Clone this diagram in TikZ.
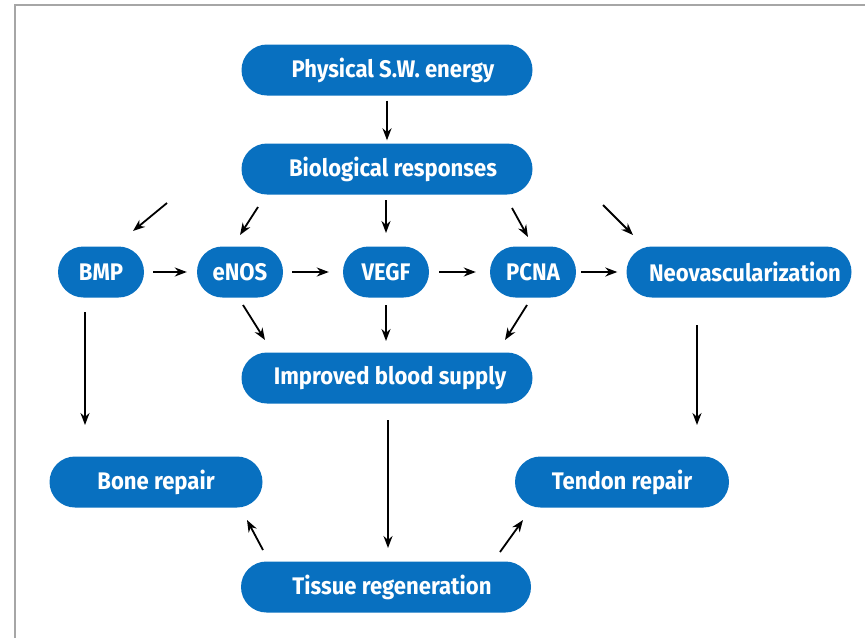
\documentclass[tikz,border=0pt]{standalone}
\usepackage{fontspec}
\setmainfont{Fira Sans}[FakeStretch=0.92]
\usetikzlibrary{arrows.meta}
\definecolor{boxblue}{RGB}{8,112,192}
\tikzset{
  pill/.style={fill=boxblue, text=white, rounded corners=25.5pt,
    minimum height=51pt, inner sep=0pt,
    font=\fontsize{24}{28}\selectfont\bfseries},
  arr/.style={-{Stealth[length=12pt,width=9pt]}, line width=1.8pt}
}
\begin{document}
\begin{tikzpicture}[x=1pt,y=-1pt]
\useasboundingbox (0,0) rectangle (865,638);
% grey frame of the figure
\draw[black!35, line width=2pt] (15,638) -- (15,5) -- (865,5);
% the boxes, top to bottom
\node[pill, minimum width=291pt] (phys) at (387,70) {\hspace{12pt}Physical S.W. energy};
\node[pill, minimum width=291pt] (bio) at (387,169) {\hspace{12pt}Biological responses};
\node[pill, minimum width=86pt] (bmp) at (101,272) {BMP};
\node[pill, minimum width=86pt] (enos) at (240,272) {eNOS};
\node[pill, minimum width=86pt] (vegf) at (386,272) {VEGF};
\node[pill, minimum width=86pt] (pcna) at (533,272) {PCNA};
\node[pill, minimum width=225pt] (neo) at (739,272) {\hspace{12pt}Neovascularization};
\node[pill, minimum width=291pt] (blood) at (387,378) {\hspace{6pt}Improved blood supply};
\node[pill, minimum width=213pt] (bone) at (156,482) {Bone repair};
\node[pill, minimum width=214pt] (tendon) at (622,482) {Tendon repair};
\node[pill, minimum width=290pt] (tissue) at (386,587) {\hspace{12pt}Tissue regeneration};
% free ends of the short arrows
\coordinate (b1) at (167,203); \coordinate (t1) at (133,231);
\coordinate (b2) at (258,207); \coordinate (t2) at (240,235);
\coordinate (b3) at (386,200); \coordinate (t3) at (386,233);
\coordinate (b4) at (512,208); \coordinate (t4) at (528,237);
\coordinate (b5) at (603,205); \coordinate (t5) at (633,235);
\coordinate (e1) at (243,305); \coordinate (f1) at (265,340);
\coordinate (e2) at (386,305); \coordinate (f2) at (386,341);
\coordinate (e3) at (527,305); \coordinate (f3) at (505,340);
\coordinate (m1) at (85,312);  \coordinate (n1) at (85,425);
\coordinate (m2) at (697,325); \coordinate (n2) at (697,425);
\coordinate (m3) at (388,420); \coordinate (n3) at (388,548);
\coordinate (s1) at (263,550); \coordinate (u1) at (247,520);
\coordinate (s2) at (500,552); \coordinate (u2) at (523,520);
% arrows
\draw[arr, shorten <=5pt, shorten >=3pt] (phys) -- (bio);
\foreach \i in {1,...,5}
  \draw[arr] (b\i) -- (t\i);
\draw[arr, shorten <=9pt, shorten >=10pt] (bmp) -- (enos);
\draw[arr, shorten <=9pt, shorten >=14pt] (enos) -- (vegf);
\draw[arr, shorten <=10pt, shorten >=14pt] (vegf) -- (pcna);
\draw[arr, shorten <=5pt, shorten >=9pt] (pcna) -- (neo);
\foreach \i in {1,2,3}
  \draw[arr] (e\i) -- (f\i);
\foreach \i in {1,2,3}
  \draw[arr] (m\i) -- (n\i);
\draw[arr] (s1) -- (u1);
\draw[arr] (s2) -- (u2);
\end{tikzpicture}
\end{document}
